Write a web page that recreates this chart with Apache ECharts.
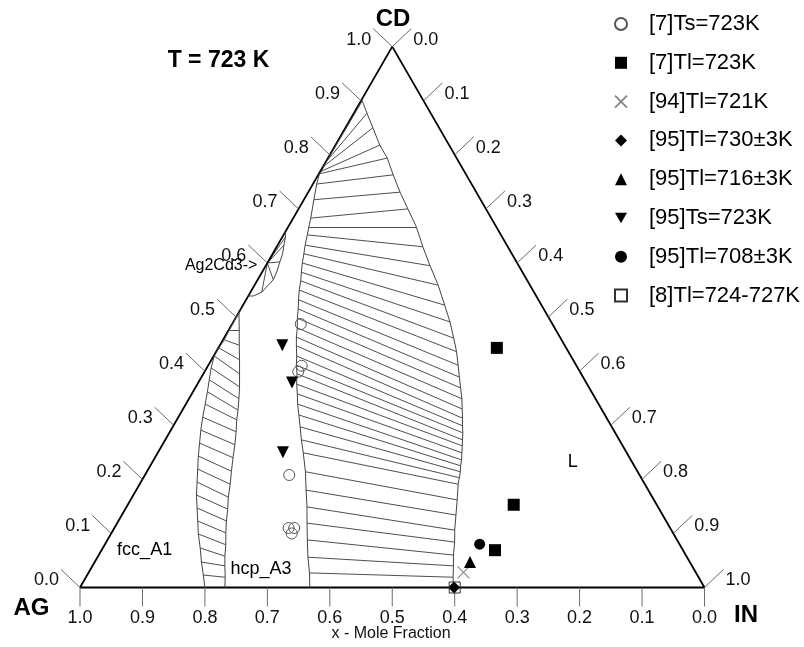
<!DOCTYPE html>
<html><head><meta charset="utf-8">
<script src="https://cdn.jsdelivr.net/npm/echarts@6/dist/echarts.min.js"></script>
<style>html,body{margin:0;padding:0;background:#fff}#c{width:804px;height:647px}</style>
</head><body><div id="c"></div>
<script>
// All compositions are [x(IN), x(CD)] mole fractions; x(AG) = 1 - both.
const tickValues = [0, 0.1, 0.2, 0.3, 0.4, 0.5, 0.6, 0.7, 0.8, 0.9, 1.0];
const tickLabels = ['0.0','0.1','0.2','0.3','0.4','0.5','0.6','0.7','0.8','0.9','1.0'];

// L + hcp_A3 two-phase region: tie-line ends on the hcp side and on the liquidus
const lhcpTop = [0.002, 0.900];
const lhcpHcpEnds = [
  [0.001,0.789],[0.001,0.779],[0.002,0.770],[0.001,0.765],[0.006,0.746],[0.016,0.717],
  [0.028,0.683],[0.033,0.667],[0.038,0.652],[0.044,0.633],[0.050,0.617],[0.056,0.600],
  [0.063,0.583],[0.070,0.567],[0.076,0.550],[0.084,0.532],[0.092,0.515],[0.099,0.498],
  [0.108,0.480],[0.115,0.463],[0.123,0.447],[0.133,0.428],[0.141,0.411],[0.150,0.395],
  [0.159,0.376],[0.169,0.358],[0.179,0.339],[0.191,0.319],[0.204,0.297],[0.218,0.273],
  [0.233,0.249],[0.254,0.214],[0.272,0.180],[0.289,0.149],[0.304,0.119],[0.320,0.088],
  [0.337,0.056],[0.354,0.027]
];
const lhcpLiqEnds = [
  [0.021,0.877],[0.044,0.850],[0.071,0.818],[0.095,0.794],[0.120,0.763],[0.147,0.731],
  [0.175,0.700],[0.205,0.667],[0.234,0.630],[0.263,0.595],[0.294,0.559],[0.323,0.522],
  [0.347,0.491],[0.368,0.461],[0.385,0.436],[0.400,0.411],[0.413,0.389],[0.425,0.369],
  [0.437,0.349],[0.447,0.330],[0.456,0.313],[0.463,0.299],[0.470,0.286],[0.476,0.273],
  [0.481,0.262],[0.487,0.249],[0.493,0.236],[0.497,0.225],[0.502,0.214],[0.506,0.203],
  [0.510,0.191],[0.523,0.162],[0.535,0.134],[0.547,0.106],[0.558,0.084],[0.568,0.060],
  [0.578,0.040],[0.588,0.019]
];
const lhcpHcpBottom = [0.368, 0];
const lhcpLiqBottom = [0.598, 0];

// fcc_A1 + hcp_A3 two-phase region
const fhTop = [0, 0.509];
const fhFccEnds = [
  [0.001,0.476],[0.002,0.458],[0.001,0.443],[0.001,0.428],[0.007,0.406],[0.015,0.384],
  [0.023,0.362],[0.031,0.339],[0.039,0.315],[0.048,0.291],[0.058,0.267],[0.068,0.243],
  [0.079,0.219],[0.090,0.195],[0.101,0.171],[0.114,0.147],[0.127,0.123],[0.140,0.099],
  [0.156,0.073],[0.171,0.047],[0.186,0.023]
];
const fhHcpEnds = [
  [0.017,0.476],[0.031,0.448],[0.045,0.421],[0.058,0.395],[0.070,0.371],[0.080,0.349],
  [0.089,0.328],[0.096,0.310],[0.106,0.288],[0.116,0.264],[0.125,0.240],[0.135,0.215],
  [0.145,0.191],[0.154,0.167],[0.164,0.145],[0.173,0.123],[0.183,0.101],[0.194,0.079],
  [0.203,0.058],[0.212,0.040],[0.223,0.019]
];
const fhFccBottom = [0.200, 0];
const fhHcpBottom = [0.232, 0];

// Ag2Cd3 region
const ag2cd3Curve = [[0,0.657],[0.005,0.648],[0.010,0.633],[0.016,0.617],[0.019,0.602],[0.023,0.585],[0.025,0.569],[0.018,0.546],[0.008,0.539],[0,0.539]];
const ag2cd3Hub = [0, 0.600];
const ag2cd3Ties = [[0.005,0.648],[0.010,0.633],[0.019,0.602],[0.025,0.569],[0.018,0.546]];

// experimental points
const ptsTs7 = [[0.110,0.487],[0.150,0.410],[0.150,0.399],[0.231,0.208],[0.279,0.110],[0.288,0.110],[0.289,0.100]];
const ptsTl7 = [[0.446,0.443],[0.618,0.153],[0.630,0.069]];
const ptsTl94 = [[0.600,0.028]];
const ptsTl95a = [[0.599,0]];
const ptsTl95b = [[0.601,0.047]];
const ptsTs95 = [[0.100,0.448],[0.150,0.379],[0.200,0.250]];
const ptsTl95c = [[0.600,0.080]];
const ptsTl8 = [[0.600,0]];

const phaseLabels = [
  {name:'fcc_A1', p:[0.069,0.069]},
  {name:'hcp_A3', p:[0.273,0.034]},
  {name:'L', p:[0.673,0.232]},
  {name:'Ag2Cd3->', p:[-0.072,0.596]}
];

const SQ = Math.sqrt(3) / 2;
const toXY = p => [p[0] + p[1] / 2, p[1] * SQ];
const FONT = '"Liberation Sans", Arial, sans-serif';

function boundary(points, color, width) {
  return {type:'line', data: points.map(toXY), symbol:'none', silent:true, z:3,
    lineStyle:{color: color || '#444', width: width || 1}, animation:false};
}
function ties(a, b) {
  return {type:'lines', coordinateSystem:'cartesian2d', silent:true, z:2, animation:false,
    lineStyle:{color:'#3a3a3a', width:0.9, opacity:1},
    data: a.map((p, k) => ({coords:[toXY(p), toXY(b[k])]}))};
}
function tickSeries(points, labels, dx, dy, lx, ly, align) {
  return {type:'custom', coordinateSystem:'cartesian2d', silent:true, z:4, animation:false,
    data: points.map(toXY),
    renderItem: (params, api) => {
      const q = api.coord([api.value(0), api.value(1)]);
      return {type:'group', children:[
        {type:'line', shape:{x1:q[0], y1:q[1], x2:q[0]+dx, y2:q[1]+dy}, style:{stroke:'#6a6a6a', lineWidth:1}},
        {type:'text', x:q[0]+lx, y:q[1]+ly, style:{text:labels[params.dataIndex], fill:'#111',
          font:'18px ' + FONT, align:align, verticalAlign:'middle'}}
      ]};
    }};
}
function scatter(name, pts, symbol, size, style) {
  return {type:'scatter', name:name, data: pts.map(toXY), symbol:symbol, symbolSize:size, z:6,
    animation:false, itemStyle: Object.assign({opacity:1}, style)};
}

const leftPts = tickValues.map(v => [0, v]);
const rightPts = tickValues.map(v => [v, 1 - v]);
const bottomPts = tickValues.map(v => [1 - v, 0]);

const series = [
  boundary([[0,0],[1,0],[0,1],[0,0]], '#000', 1.8),
  ties(lhcpHcpEnds, lhcpLiqEnds),
  boundary([lhcpTop].concat(lhcpHcpEnds, [lhcpHcpBottom])),
  boundary([lhcpTop].concat(lhcpLiqEnds, [lhcpLiqBottom])),
  ties(fhFccEnds, fhHcpEnds),
  boundary([fhTop].concat(fhFccEnds, [fhFccBottom])),
  boundary([fhTop].concat(fhHcpEnds, [fhHcpBottom])),
  boundary(ag2cd3Curve),
  ties(ag2cd3Ties.map(() => ag2cd3Hub), ag2cd3Ties),
  tickSeries(leftPts, tickLabels, -19, -18, -21, -7, 'right'),
  tickSeries(rightPts, tickLabels, 19, -18, 21, -7, 'left'),
  tickSeries(bottomPts, tickLabels, 0, 19, 0, 31, 'center'),
  {type:'scatter', silent:true, z:5, symbolSize:0, animation:false, itemStyle:{opacity:1},
    data: phaseLabels.map(d => ({value: toXY(d.p), label:{show:true, formatter:d.name,
      position:'inside', color:'#000', opacity:1, fontSize: d.name === 'Ag2Cd3->' ? 16 : 18, fontFamily:FONT}}))},
  scatter('[7]Ts=723K', ptsTs7, 'circle', 11, {color:'rgba(0,0,0,0)', borderColor:'#555', borderWidth:1}),
  scatter('[7]Tl=723K', ptsTl7, 'rect', 12, {color:'#000'}),
  scatter('[94]Tl=721K', ptsTl94, 'path://M0,0L10,10M10,0L0,10', 12, {color:'rgba(0,0,0,0)', borderColor:'#888', borderWidth:1.2}),
  scatter('[95]Tl=730±3K', ptsTl95a, 'diamond', 12, {color:'#000'}),
  scatter('[95]Tl=716±3K', ptsTl95b, 'triangle', 12, {color:'#000'}),
  scatter('[95]Ts=723K', ptsTs95, 'path://M0,0L12,0L6,10.4Z', 12, {color:'#000'}),
  scatter('[95]Tl=708±3K', ptsTl95c, 'circle', 11, {color:'#000'}),
  scatter('[8]Tl=724-727K', ptsTl8, 'rect', 11, {color:'rgba(0,0,0,0)', borderColor:'#333', borderWidth:1})
];

const chart = echarts.init(document.getElementById('c'), null, {renderer:'canvas'});
chart.setOption({
  animation:false,
  backgroundColor:'#fff',
  grid:{left:0, right:0, top:0, bottom:0, containLabel:false},
  xAxis:{type:'value', min:-0.12810, max:1.15933, show:false},
  yAxis:{type:'value', min:-0.09528, max:0.94075, show:false},
  legend:{orient:'vertical', left:609, top:8, itemWidth:12, itemHeight:12, itemGap:16.8,
    selectedMode:false,
    textStyle:{fontSize:22, fontFamily:FONT, color:'#000', padding:[0,0,0,17]},
    data:['[7]Ts=723K','[7]Tl=723K','[94]Tl=721K','[95]Tl=730±3K','[95]Tl=716±3K','[95]Ts=723K','[95]Tl=708±3K','[8]Tl=724-727K']},
  graphic:[
    {type:'text', x:218.5, y:61, style:{text:'T = 723 K', font:'bold 23px ' + FONT, fill:'#000', align:'center', verticalAlign:'middle'}},
    {type:'text', x:393, y:19, style:{text:'CD', font:'bold 24px ' + FONT, fill:'#000', align:'center', verticalAlign:'middle'}},
    {type:'text', x:31.5, y:608, style:{text:'AG', font:'bold 24px ' + FONT, fill:'#000', align:'center', verticalAlign:'middle'}},
    {type:'text', x:746, y:615, style:{text:'IN', font:'bold 24px ' + FONT, fill:'#000', align:'center', verticalAlign:'middle'}},
    {type:'text', x:391, y:634, style:{text:'x - Mole Fraction', font:'16px ' + FONT, fill:'#111', align:'center', verticalAlign:'middle'}}
  ],
  series: series
});
</script></body></html>
